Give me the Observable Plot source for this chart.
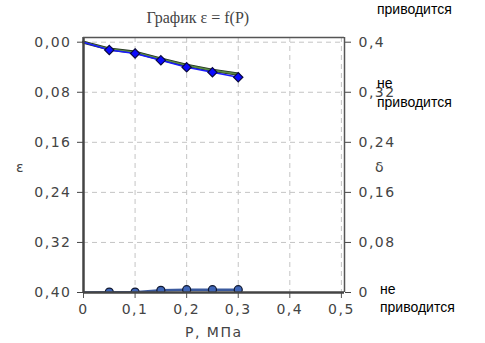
<!DOCTYPE html>
<html><head><meta charset="utf-8">
<script src="https://cdn.jsdelivr.net/npm/d3@7"></script>
<script src="https://cdn.jsdelivr.net/npm/@observablehq/plot@0.6"></script>
<style>
html,body{margin:0;padding:0;background:#fff;}
#wrap{position:relative;width:485px;height:343px;overflow:hidden;}
.t{position:absolute;white-space:nowrap;line-height:1;}
.note{font-family:"Liberation Sans",Arial,sans-serif;font-size:14px;color:#000;}
</style></head>
<body><div id="wrap"></div>
<script>
const P = [0, 0.05, 0.1, 0.15, 0.2, 0.25, 0.3];
const eps = [0, 0.0125, 0.018, 0.029, 0.040, 0.048, 0.056];
const eps2 = [0, 0.011, 0.016, 0.027, 0.037, 0.045, 0.051];
const delta = [0, 0.0006, 0.0006, 0.0035, 0.0045, 0.0045, 0.0045];
const xTicks = [0, 0.1, 0.2, 0.3, 0.4, 0.5];
const xTickLabels = ["0", "0,1", "0,2", "0,3", "0,4", "0,5"];
const yTicks = [0, 0.08, 0.16, 0.24, 0.32, 0.40];
const yTickLabels = ["0,00", "0,08", "0,16", "0,24", "0,32", "0,40"];
const dTicks = [0.4, 0.32, 0.24, 0.16, 0.08, 0];
const dTickLabels = ["0,4", "0,32", "0,24", "0,16", "0,08", "0"];
const DMAX = 0.4;

const rowsE = P.map((p, i) => ({p, e: eps[i]}));
const rowsE2 = P.map((p, i) => ({p, e: eps2[i]}));
const rowsD = P.map((p, i) => ({p, y: DMAX - delta[i]}));
const dPos = dTicks.map(d => DMAX - d);

const fmtX = d => xTickLabels[xTicks.findIndex(v => Math.abs(v - d) < 1e-9)];
const fmtY = d => yTickLabels[yTicks.findIndex(v => Math.abs(v - d) < 1e-9)];
const fmtD = d => dTickLabels[dPos.findIndex(v => Math.abs(v - d) < 1e-9)];

const chart = Plot.plot({
  width: 485, height: 343,
  marginLeft: 83, marginRight: 141, marginTop: 37, marginBottom: 51,
  style: {fontFamily: "'DejaVu Sans', Verdana, sans-serif", fontSize: "14px", color: "#444", letterSpacing: "1.5px", background: "#fff"},
  x: {domain: [0, 0.506]},
  y: {domain: [-0.0075, 0.4], reverse: true},
  marks: [
    Plot.gridX(xTicks.slice(1), {stroke: "#c4c4c4", strokeOpacity: 1, strokeDasharray: "5,4"}),
    Plot.gridY(yTicks.slice(0, 5), {stroke: "#c4c4c4", strokeOpacity: 1, strokeDasharray: "5,4"}),
    Plot.axisX({ticks: xTicks, tickFormat: fmtX, tickSize: 6, tickPadding: 6, label: null, stroke: "#555"}),
    Plot.axisY({ticks: yTicks, tickFormat: fmtY, tickSize: 6, tickPadding: 6, label: null, anchor: "left"}),
    Plot.axisY({ticks: dPos, tickFormat: fmtD, tickSize: 6, tickPadding: 8, label: null, anchor: "right"}),
    Plot.line(rowsE2, {x: "p", y: "e", stroke: "#22331f", strokeWidth: 3.2}),
    Plot.line(rowsE2, {x: "p", y: "e", stroke: "#5a8a46", strokeWidth: 1.6}),
    Plot.line(rowsE, {x: "p", y: "e", stroke: "#1a1aff", strokeWidth: 1.6}),
    Plot.dot(rowsE.slice(1), {x: "p", y: "e", symbol: "diamond2", r: 4.2, fill: "#0a0aff", stroke: "#0a0a40", strokeWidth: 1.2}),
    Plot.line(rowsD, {x: "p", y: "y", stroke: "#3b5a9e", strokeWidth: 2.5, clip: "frame"}),
    Plot.dot(rowsD.slice(1), {x: "p", y: "y", r: 4, fill: "#3f66b8", stroke: "#101830", strokeWidth: 1.2, clip: "frame"}),
    Plot.ruleX([0], {stroke: "#444", strokeWidth: 2.5}),
    Plot.ruleY([0.4], {stroke: "#444", strokeWidth: 2.5}),
    Plot.ruleX([0.506], {stroke: "#555", strokeWidth: 1.5}),
    Plot.ruleY([-0.0075], {stroke: "#555", strokeWidth: 1.5})
  ]
});
const wrap = document.getElementById("wrap");
wrap.appendChild(chart);

function addText(txt, x, y, cls, style) {
  const d = document.createElement("div");
  d.className = "t " + cls;
  d.textContent = txt;
  d.style.left = x + "px"; d.style.top = y + "px";
  Object.assign(d.style, style || {});
  wrap.appendChild(d);
  return d;
}
const sans = {fontFamily: "'DejaVu Sans', Verdana, sans-serif", fontSize: "14px", color: "#444", letterSpacing: "1.5px"};
const title = addText("График ε = f(P)", 0, 10, "", {fontFamily: "'Liberation Serif', 'Times New Roman', serif", fontSize: "16px", color: "#444"});
title.style.left = (198 - title.offsetWidth / 2) + "px";
const xl = addText("P, МПа", 0, 325, "", sans);
xl.style.left = (214 - xl.offsetWidth / 2) + "px";
addText("ε", 16, 160, "", sans);
addText("δ", 375, 160, "", sans);
addText("не", 377, -17, "note");
addText("приводится", 377, 2, "note");
addText("не", 377, 76, "note");
addText("приводится", 377, 95, "note");
addText("не", 380, 282, "note");
addText("приводится", 380, 300, "note");
</script></body></html>
